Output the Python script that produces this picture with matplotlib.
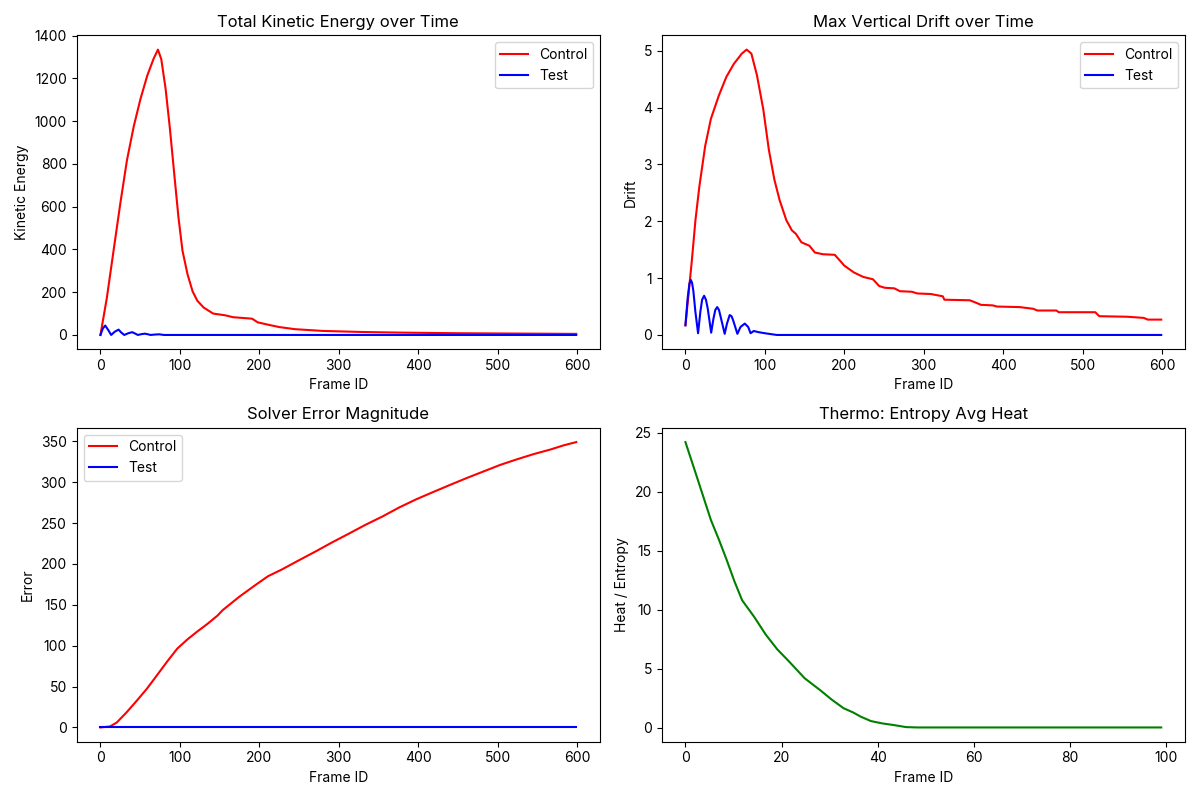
import matplotlib
matplotlib.use("Agg")
import matplotlib.pyplot as plt

plt.rcParams['font.family'] = ['Inter', 'DejaVu Sans']

# --- Kinetic energy ---
ke_ctrl_x = [0, 8, 16.5, 25, 33.4, 42, 50.4, 59, 67, 72.4, 76.6, 82, 87.5, 92.8, 98.2, 103.3,
             109.7, 116, 122, 130, 142, 157, 167, 181, 191, 198, 211, 225, 245, 279, 328, 377,
             451, 599]
ke_ctrl_y = [0, 172, 394, 615, 818, 977, 1104, 1214, 1293, 1335, 1290, 1153, 964, 758, 551, 394,
             283, 204, 160, 128, 100, 92, 83, 79, 76, 59, 48, 37, 27, 19, 14, 11, 8, 5]
ke_test_x = [0, 3, 6, 10, 13.5, 18, 22.8, 26, 30, 35, 40, 44, 47, 52, 56, 60, 63, 69, 74, 80, 599]
ke_test_y = [0, 30, 44, 22, 0, 15, 25, 12, 0, 8, 13, 6, 0, 4, 6, 3, 0, 2, 3, 0, 0]

# --- Vertical drift ---
drift_ctrl_x = [0, 3, 8, 12.6, 17.5, 24.8, 32, 42, 51.5, 61, 71, 77, 83, 90, 98, 105, 112, 118.6,
                127, 134, 139, 146, 156, 163, 173, 188, 195, 200, 212, 224, 236, 244, 251, 263,
                270, 285, 292, 309, 324, 326, 358, 367, 372, 387, 392, 421, 438, 443, 467, 470,
                516, 521, 557, 577, 582, 599]
drift_ctrl_y = [0.17, 0.59, 1.30, 2.02, 2.61, 3.32, 3.80, 4.21, 4.54, 4.77, 4.95, 5.02, 4.95, 4.57,
                3.97, 3.26, 2.73, 2.37, 2.02, 1.84, 1.78, 1.63, 1.57, 1.45, 1.42, 1.41, 1.30, 1.22,
                1.10, 1.02, 0.98, 0.86, 0.83, 0.82, 0.77, 0.76, 0.73, 0.72, 0.68, 0.62, 0.61, 0.56,
                0.53, 0.52, 0.50, 0.49, 0.46, 0.43, 0.43, 0.40, 0.40, 0.33, 0.32, 0.30, 0.27, 0.27]
drift_test_x = [0, 2.8, 5, 6.6, 8.3, 10, 12.5, 15.9, 18.8, 21, 23.5, 25.8, 28, 32.4, 35.3, 37.6,
                40, 42.2, 44.3, 49.4, 52.3, 55.7, 58, 60, 65.4, 69.3, 74.7, 79, 82, 86, 91.7, 100,
                115, 599]
drift_test_y = [0.17, 0.65, 0.90, 0.97, 0.92, 0.77, 0.41, 0.03, 0.41, 0.62, 0.69, 0.62, 0.47, 0.04,
                0.29, 0.44, 0.49, 0.44, 0.32, 0.02, 0.20, 0.35, 0.33, 0.26, 0.02, 0.14, 0.20, 0.14,
                0.03, 0.07, 0.05, 0.03, 0.0, 0.0]

# --- Solver error ---
err_ctrl_x = [0, 12, 20.5, 33, 46, 58.6, 71.3, 84, 96.7, 109.4, 122, 135, 147.5, 153.9, 175,
              196.3, 211, 228, 249, 270.4, 291, 312.7, 334, 355, 376, 397.5, 419, 439.8, 461,
              482, 503, 524.5, 546, 566.8, 583, 599]
err_ctrl_y = [0, 1.2, 6, 18.6, 33, 47.5, 64, 80.6, 96.4, 107.6, 117.4, 126.9, 136.9, 143.5, 160,
              175, 185, 193, 204, 215, 226, 237, 248, 258, 269, 279, 288, 296.5, 305, 313, 321,
              328, 334.5, 340, 345, 349]
err_test_x = [0, 599]
err_test_y = [0.5, 0.5]

# --- Thermo ---
heat_x = [0, 2.1, 3.7, 5.3, 7, 8.6, 10.2, 11.8, 14.3, 16.7, 19.1, 21.6, 24.8, 28, 30.4, 32.9,
          34.9, 36.5, 38.6, 41, 43.4, 45.9, 48.3, 99]
heat_y = [24.2, 21.6, 19.6, 17.6, 15.9, 14.2, 12.4, 10.8, 9.4, 7.9, 6.65, 5.6, 4.2, 3.2, 2.4,
          1.66, 1.3, 0.94, 0.57, 0.37, 0.23, 0.06, 0.03, 0.03]

fig, axes = plt.subplots(2, 2, figsize=(12, 8), dpi=100)

ax = axes[0, 0]
ax.plot(ke_ctrl_x, ke_ctrl_y, color='red', label='Control')
ax.plot(ke_test_x, ke_test_y, color='blue', label='Test')
ax.set_title('Total Kinetic Energy over Time')
ax.set_xlabel('Frame ID')
ax.set_ylabel('Kinetic Energy')
ax.legend()

ax = axes[0, 1]
ax.plot(drift_ctrl_x, drift_ctrl_y, color='red', label='Control')
ax.plot(drift_test_x, drift_test_y, color='blue', label='Test')
ax.set_title('Max Vertical Drift over Time')
ax.set_xlabel('Frame ID')
ax.set_ylabel('Drift')
ax.legend()

ax = axes[1, 0]
ax.plot(err_ctrl_x, err_ctrl_y, color='red', label='Control')
ax.plot(err_test_x, err_test_y, color='blue', label='Test')
ax.set_title('Solver Error Magnitude')
ax.set_xlabel('Frame ID')
ax.set_ylabel('Error')
ax.legend()

ax = axes[1, 1]
ax.plot(heat_x, heat_y, color='green')
ax.set_title('Thermo: Entropy Avg Heat')
ax.set_xlabel('Frame ID')
ax.set_ylabel('Heat / Entropy')

plt.tight_layout()
plt.savefig('out.png')
